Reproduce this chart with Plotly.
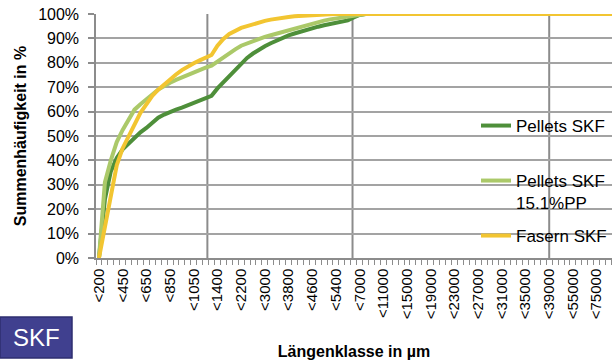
import plotly.graph_objects as go

# Length classes: one category per bin, every fourth bin carries a label
tick_labels = ["<200", "<450", "<650", "<850", "<1050", "<1400", "<2200", "<3000",
               "<3800", "<4600", "<5400", "<7000", "<11000", "<15000", "<19000",
               "<23000", "<27000", "<31000", "<35000", "<39000", "<55000", "<75000"]
label_every = 4

# Cumulative frequency (%) per length bin
pellets_skf = [0, 24, 35.5, 41, 44.5, 47, 49.5, 51.5, 53.3, 55.5,
               57.5, 58.8, 60, 60.8, 61.6, 62.5, 63.4, 64.3, 65.2, 66.5,
               69.5, 72, 74.5, 77.5, 80, 82, 83.8, 85.5, 86.8, 88,
               89.2, 90.3, 91.2, 92, 92.8, 93.6, 94.2, 94.8, 95.4, 96,
               96.6, 97, 97.4, 98.6, 99.6, 100, 100, 100, 100, 100,
               100, 100, 100, 100, 100, 100, 100, 100, 100, 100,
               100, 100, 100, 100, 100, 100, 100, 100, 100, 100,
               100, 100, 100, 100, 100, 100, 100, 100, 100, 100,
               100, 100, 100, 100, 100, 100, 100, 100]

pellets_skf_pp = [0, 31, 40, 47.5, 52.5, 57, 60.8, 63, 64.8, 67,
                  69, 70.5, 71.8, 73, 74, 75.2, 76.3, 77.2, 78, 78.8,
                  80.5, 82.5, 84, 85.5, 87, 88, 89, 89.8, 90.6, 91.3,
                  92, 92.6, 93.2, 94, 94.8, 95.6, 96.2, 96.8, 97.3, 97.8,
                  98.2, 98.6, 99, 99.5, 100, 100, 100, 100, 100, 100,
                  100, 100, 100, 100, 100, 100, 100, 100, 100, 100,
                  100, 100, 100, 100, 100, 100, 100, 100, 100, 100,
                  100, 100, 100, 100, 100, 100, 100, 100, 100, 100,
                  100, 100, 100, 100, 100, 100, 100, 100]

fasern_skf = [0, 12, 26, 38, 45, 50, 55, 59.5, 63, 66.5,
              69, 71.2, 73.2, 75.2, 77, 78.6, 79.8, 81, 82, 83.2,
              87, 89.8, 91.8, 93.2, 94.3, 95, 95.8, 96.6, 97.2, 97.7,
              98.2, 98.5, 98.8, 99.1, 99.3, 99.5, 99.6, 99.7, 99.8, 99.9,
              100, 100, 100, 100, 100, 100, 100, 100, 100, 100,
              100, 100, 100, 100, 100, 100, 100, 100, 100, 100,
              100, 100, 100, 100, 100, 100, 100, 100, 100, 100,
              100, 100, 100, 100, 100, 100, 100, 100, 100, 100,
              100, 100, 100, 100, 100, 100, 100, 100]

series = [
    ("Pellets SKF", pellets_skf, "#4e8f3a", "legend"),
    ("Pellets SKF<br>15.1%PP", pellets_skf_pp, "#abc969", "legend2"),
    ("Fasern SKF", fasern_skf, "#f2c531", "legend3"),
]

# Vertical reference lines (category positions)
ref_lines = [18.3, 42.8, 76.0]

W, H = 612, 364
ML, MR, MT, MB = 96, 0, 14, 106
FONT = "Liberation Sans, Arial, sans-serif"
GRID = "#a3a3a3"
AXIS = "#8c8c8c"


def px_x(p):
    return (p - ML) / (W - ML - MR)


def px_y(p):
    return (H - MB - p) / (H - MT - MB)


fig = go.Figure()
for name, vals, color, leg in series:
    fig.add_trace(go.Scatter(
        x=list(range(len(vals))), y=vals, name=name, mode="lines",
        line=dict(color=color, width=4), cliponaxis=False, legend=leg,
    ))

shapes = []
for xv in ref_lines:
    shapes.append(dict(type="line", xref="x", yref="paper", x0=xv, x1=xv, y0=0, y1=1,
                       line=dict(color=AXIS, width=2), layer="below"))

# SKF badge in the lower left corner
shapes.append(dict(type="rect", xref="paper", yref="paper",
                   x0=px_x(0), x1=px_x(72), y0=px_y(358), y1=px_y(317),
                   fillcolor="#40408f", line=dict(color="#2e2e70", width=1.5)))

n_labels = len(tick_labels)
tickvals = [i * label_every for i in range(n_labels)]

legend_common = dict(bgcolor="rgba(0,0,0,0)", font=dict(family=FONT, size=17, color="#000"),
                     xanchor="left", yanchor="top", valign="top", itemwidth=30)

fig.update_layout(
    width=W, height=H,
    margin=dict(l=ML, r=MR, t=MT, b=MB),
    paper_bgcolor="white", plot_bgcolor="white",
    font=dict(family=FONT, color="#000"),
    showlegend=True,
    legend=dict(x=px_x(476), y=px_y(108), **legend_common),
    legend2=dict(x=px_x(476), y=px_y(163), **legend_common),
    legend3=dict(x=px_x(476), y=px_y(218), **legend_common),
    shapes=shapes,
    annotations=[dict(text="SKF", xref="paper", yref="paper", x=px_x(36), y=px_y(337.5),
                      xanchor="center", yanchor="middle", showarrow=False,
                      font=dict(family=FONT, size=24, color="white"))],
    xaxis=dict(
        range=[-0.5, 86.6], tickmode="array", tickvals=tickvals, ticktext=tick_labels,
        tickangle=-90, ticks="", tickfont=dict(size=15, color="#000"),
        ticklabelstandoff=3,
        showgrid=False, zeroline=False, showline=True, linecolor=AXIS, linewidth=1.5,
        minor=dict(tickmode="linear", tick0=0.5, dtick=1, ticks="outside", ticklen=5,
                   tickcolor=AXIS, tickwidth=1, showgrid=False),
        title=dict(text="Längenklasse in µm", font=dict(size=16, weight="bold"), standoff=28),
        automargin=False,
    ),
    yaxis=dict(
        range=[0, 100], tickmode="array", tickvals=list(range(0, 101, 10)),
        ticktext=[f"{v}%" for v in range(0, 101, 10)],
        tickfont=dict(size=16, color="#000"), ticks="outside", ticklen=6,
        tickcolor=AXIS, tickwidth=1.5, ticklabelstandoff=6,
        showgrid=True, gridcolor=GRID, gridwidth=1.5, zeroline=False,
        showline=True, linecolor=AXIS, linewidth=1.5,
        title=dict(text="Summenhäufigkeit in %", font=dict(size=16, weight="bold"), standoff=8),
        automargin=False,
    ),
)

fig.write_html("out.html")
